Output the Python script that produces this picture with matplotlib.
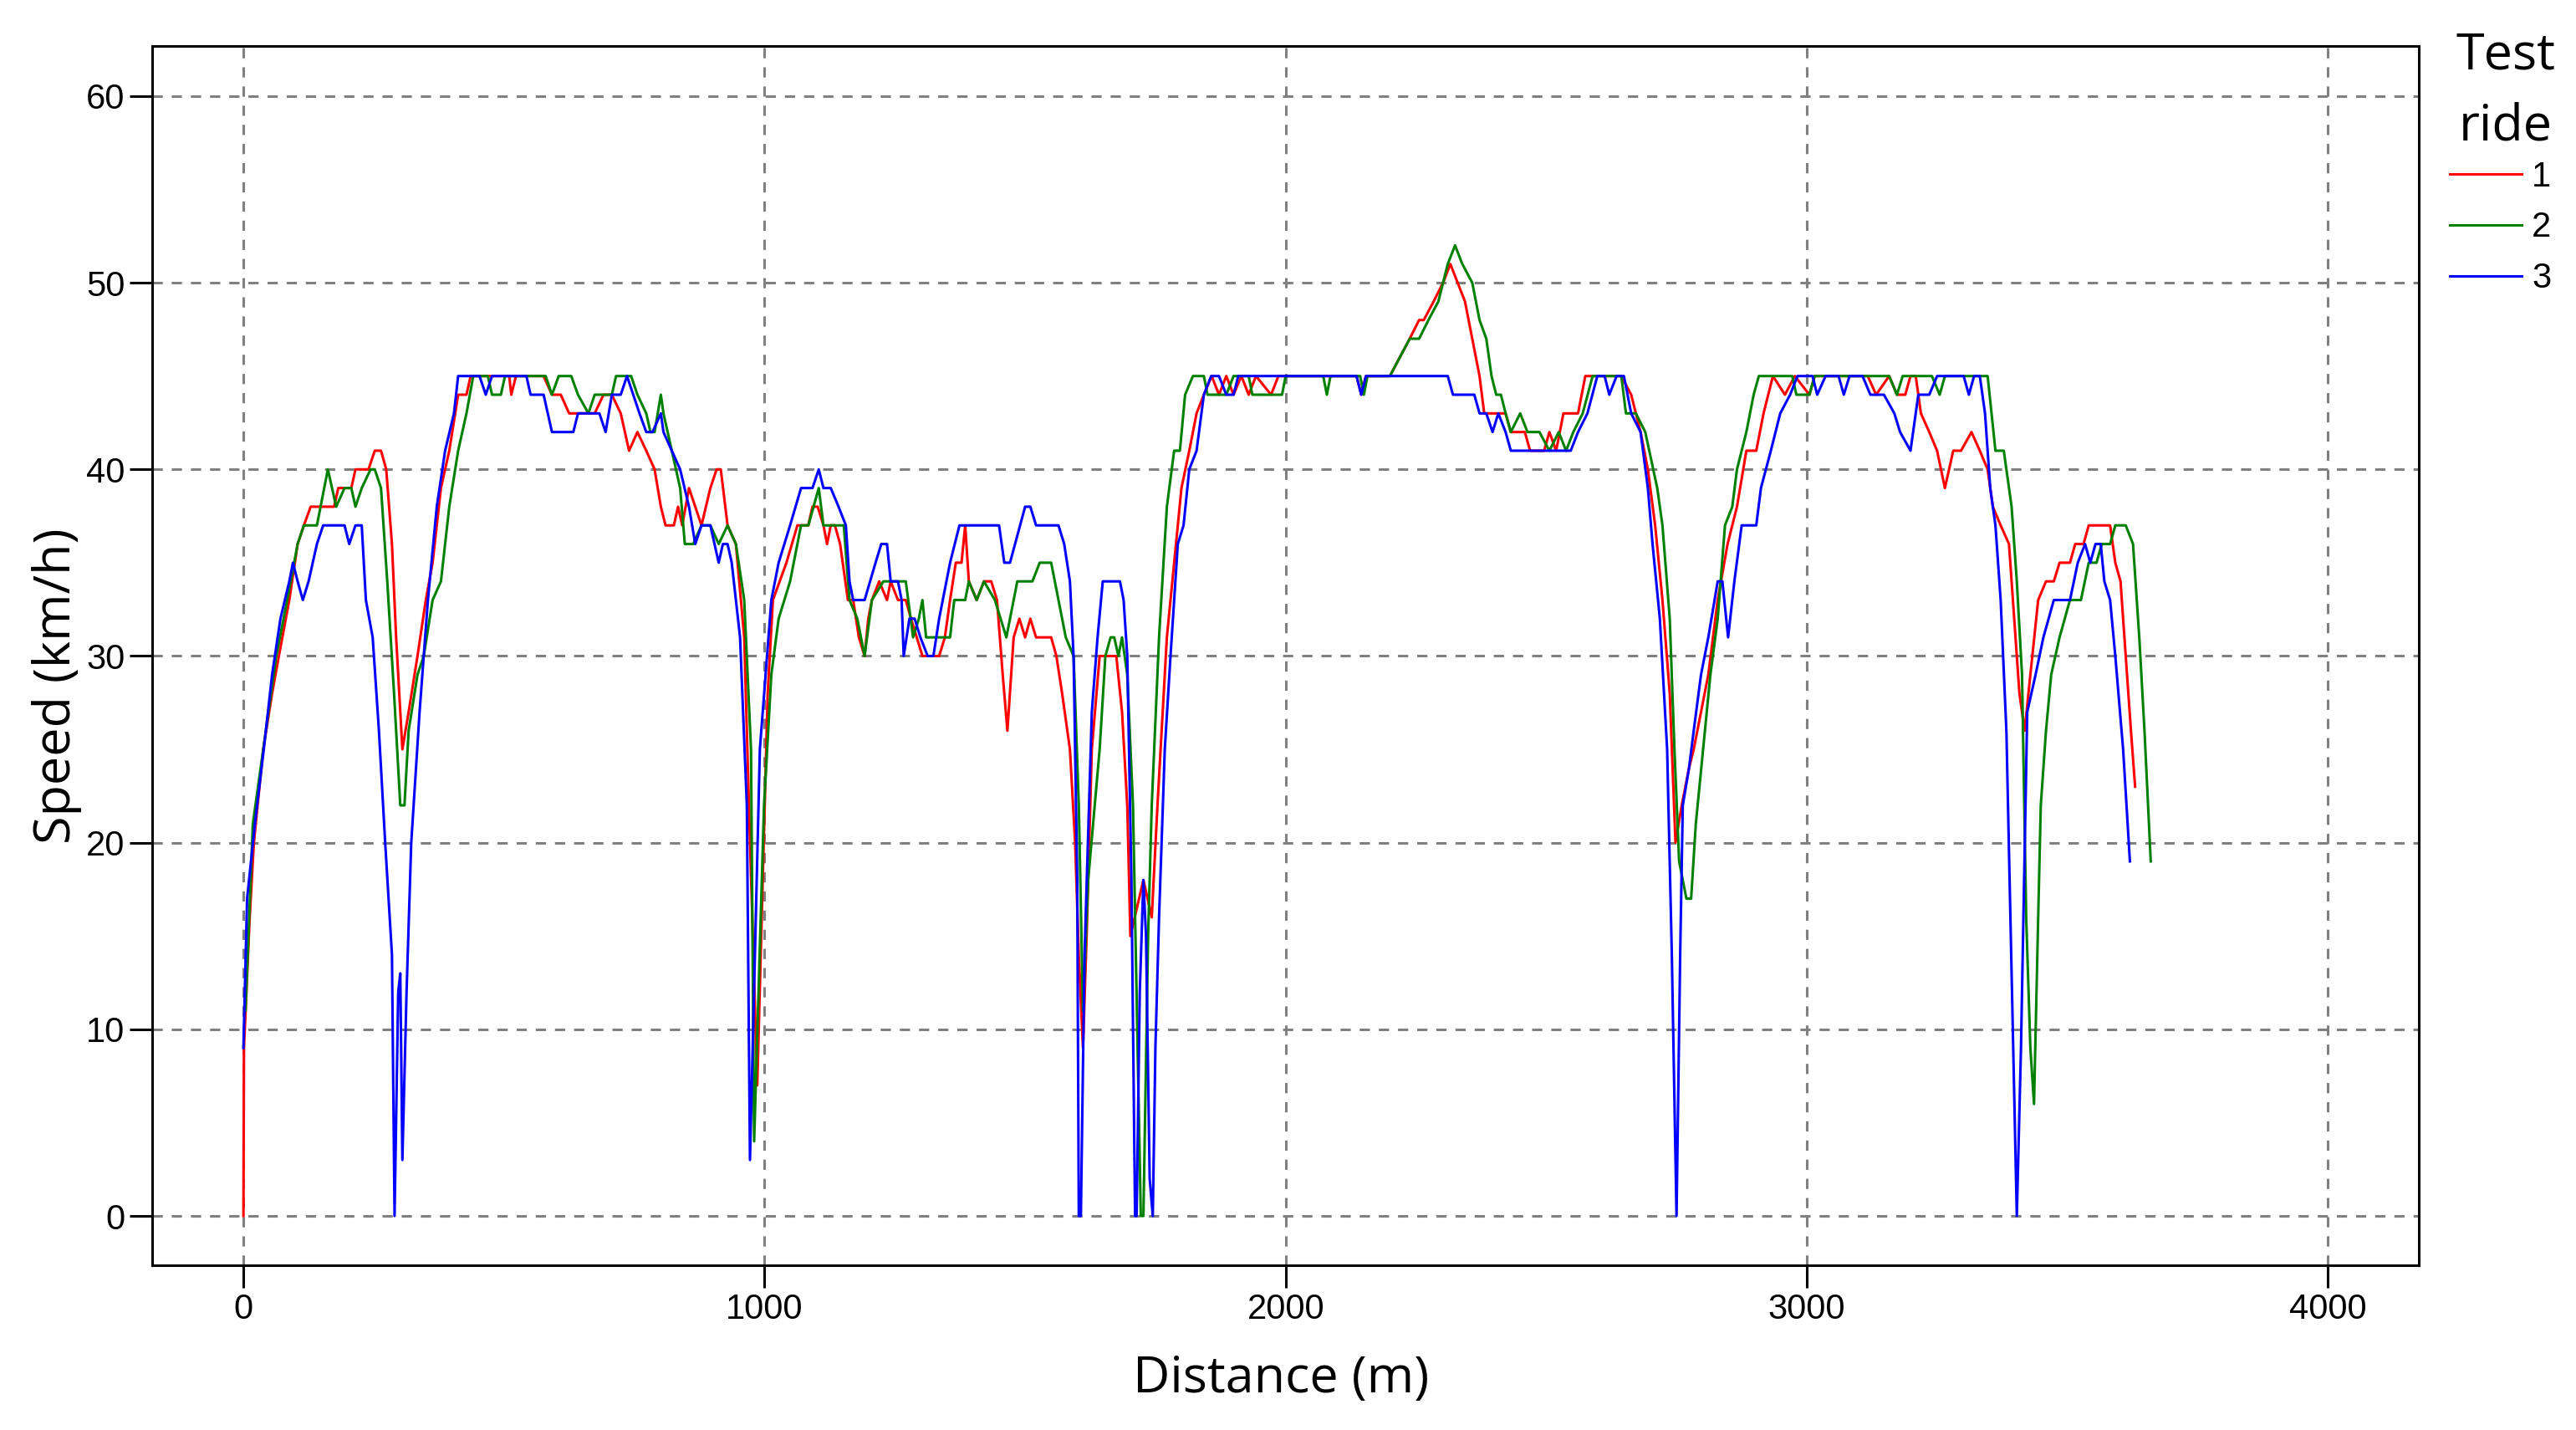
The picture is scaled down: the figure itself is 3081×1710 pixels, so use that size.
import matplotlib
matplotlib.use("Agg")
import matplotlib.pyplot as plt

###############################
### data: distance (m) and speed (km/h) per test ride

ride1_dist = [0, 1, 12, 20, 38, 55, 68, 88, 104, 116, 129, 174, 182, 207, 215, 240, 252, 264, 274, 285,
              293, 305, 317, 334, 350, 363, 379, 395, 412, 428, 436, 510, 514, 523, 576, 592, 609, 625, 674, 691,
              707, 724, 740, 756, 773, 789, 801, 810, 826, 834, 842, 855, 867, 879, 896, 908, 916, 929, 945, 961,
              970, 986, 1006, 1016, 1042, 1063, 1084, 1092, 1102, 1113, 1120, 1127, 1135, 1145, 1160, 1170, 1181, 1192, 1199, 1206,
              1220, 1235, 1242, 1256, 1271, 1281, 1292, 1303, 1335, 1346, 1356, 1367, 1378, 1385, 1392, 1407, 1421, 1435, 1446, 1457,
              1466, 1478, 1489, 1500, 1510, 1521, 1550, 1560, 1571, 1586, 1596, 1603, 1611, 1618, 1628, 1643, 1675, 1686, 1696, 1702,
              1727, 1743, 1754, 1764, 1772, 1786, 1800, 1815, 1829, 1843, 1858, 1872, 1886, 1900, 1915, 1929, 1943, 1972, 1986, 2136,
              2145, 2154, 2200, 2219, 2238, 2256, 2265, 2284, 2302, 2316, 2330, 2344, 2358, 2372, 2381, 2422, 2432, 2459, 2469, 2496,
              2506, 2519, 2533, 2561, 2575, 2644, 2663, 2681, 2695, 2709, 2723, 2737, 2748, 2760, 2774, 2783, 2797, 2811, 2829, 2848,
              2866, 2884, 2903, 2917, 2935, 2958, 2977, 3005, 3015, 3117, 3133, 3158, 3173, 3189, 3199, 3209, 3219, 3235, 3250, 3265,
              3281, 3296, 3316, 3332, 3347, 3357, 3372, 3388, 3398, 3408, 3418, 3429, 3444, 3459, 3474, 3485, 3505, 3515, 3531, 3541,
              3582, 3592, 3602, 3612, 3622, 3630]
ride1_speed = [0, 9, 16, 20, 25, 28, 30, 33, 36, 37, 38, 38, 39, 39, 40, 40, 41, 41, 40, 36,
               31, 25, 27, 30, 33, 35, 39, 41, 44, 44, 45, 45, 44, 45, 45, 44, 44, 43, 43, 44,
               44, 43, 41, 42, 41, 40, 38, 37, 37, 38, 37, 39, 38, 37, 39, 40, 40, 37, 36, 31,
               22, 7, 28, 33, 35, 37, 37, 38, 38, 37, 36, 37, 37, 36, 33, 33, 31, 30, 32, 33,
               34, 33, 34, 33, 33, 32, 31, 30, 30, 31, 33, 35, 35, 37, 34, 33, 34, 34, 33, 29,
               26, 31, 32, 31, 32, 31, 31, 30, 28, 25, 20, 14, 9, 15, 25, 30, 30, 27, 22, 15,
               18, 16, 22, 27, 31, 35, 39, 41, 43, 44, 45, 44, 45, 44, 45, 44, 45, 44, 45, 45,
               44, 45, 45, 46, 47, 48, 48, 49, 50, 51, 50, 49, 47, 45, 43, 43, 42, 42, 41, 41,
               42, 41, 43, 43, 45, 45, 44, 42, 40, 37, 33, 28, 20, 22, 24, 25, 27, 29, 33, 36,
               38, 41, 41, 43, 45, 44, 45, 44, 45, 45, 44, 45, 44, 44, 45, 45, 43, 42, 41, 39,
               41, 41, 42, 41, 40, 38, 37, 36, 32, 28, 26, 29, 33, 34, 34, 35, 35, 36, 36, 37,
               37, 35, 34, 30, 26, 23]

ride2_dist = [4, 18, 43, 63, 84, 104, 116, 141, 162, 178, 194, 207, 215, 227, 244, 252, 264, 276, 289, 301,
              309, 317, 334, 346, 363, 379, 395, 412, 428, 441, 469, 477, 494, 502, 580, 592, 605, 629, 642, 662,
              674, 707, 715, 744, 756, 773, 781, 789, 801, 806, 822, 838, 847, 863, 879, 896, 912, 929, 945, 961,
              974, 980, 999, 1013, 1027, 1049, 1070, 1084, 1104, 1113, 1152, 1163, 1178, 1192, 1206, 1228, 1249, 1271, 1285, 1296,
              1303, 1310, 1342, 1356, 1364, 1385, 1392, 1407, 1421, 1442, 1453, 1464, 1471, 1485, 1514, 1528, 1550, 1564, 1578, 1593,
              1603, 1611, 1621, 1643, 1654, 1664, 1671, 1679, 1686, 1696, 1707, 1722, 1727, 1736, 1743, 1757, 1772, 1786, 1797, 1807,
              1822, 1843, 1850, 1886, 1900, 1929, 1936, 1993, 2000, 2072, 2079, 2086, 2143, 2150, 2157, 2200, 2219, 2238, 2256, 2274,
              2293, 2311, 2325, 2339, 2358, 2372, 2385, 2395, 2404, 2413, 2422, 2432, 2450, 2464, 2487, 2506, 2524, 2538, 2552, 2570,
              2589, 2644, 2653, 2672, 2690, 2713, 2723, 2737, 2746, 2755, 2769, 2778, 2787, 2801, 2815, 2829, 2843, 2857, 2866, 2875,
              2884, 2898, 2908, 2972, 2980, 3005, 3015, 3158, 3173, 3184, 3240, 3255, 3265, 3347, 3362, 3378, 3393, 3403, 3413, 3421,
              3429, 3436, 3444, 3449, 3459, 3469, 3485, 3505, 3526, 3541, 3556, 3566, 3582, 3592, 3612, 3626, 3638, 3648, 3660]
ride2_speed = [11, 21, 26, 30, 33, 36, 37, 37, 40, 38, 39, 39, 38, 39, 40, 40, 39, 34, 28, 22,
               22, 26, 29, 30, 33, 34, 38, 41, 43, 45, 45, 44, 44, 45, 45, 44, 45, 45, 44, 43,
               44, 44, 45, 45, 44, 43, 42, 42, 44, 43, 41, 39, 36, 36, 37, 37, 36, 37, 36, 33,
               25, 4, 22, 29, 32, 34, 37, 37, 39, 37, 37, 33, 32, 30, 33, 34, 34, 34, 31, 32,
               33, 31, 31, 31, 33, 33, 34, 33, 34, 33, 32, 31, 32, 34, 34, 35, 35, 33, 31, 30,
               22, 11, 18, 25, 30, 31, 31, 30, 31, 29, 22, 0, 0, 15, 22, 31, 38, 41, 41, 44,
               45, 45, 44, 44, 45, 45, 44, 44, 45, 45, 44, 45, 45, 44, 45, 45, 46, 47, 47, 48,
               49, 51, 52, 51, 50, 48, 47, 45, 44, 44, 43, 42, 43, 42, 42, 41, 42, 41, 42, 43,
               45, 45, 43, 43, 42, 39, 37, 32, 25, 19, 17, 17, 21, 25, 29, 32, 37, 38, 40, 41,
               42, 44, 45, 45, 44, 44, 45, 45, 44, 45, 45, 44, 45, 45, 41, 41, 38, 34, 29, 16,
               9, 6, 16, 22, 26, 29, 31, 33, 33, 35, 35, 36, 36, 37, 37, 36, 31, 26, 19]

ride3_dist = [0, 7, 22, 39, 55, 71, 88, 95, 104, 114, 125, 141, 153, 194, 203, 215, 227, 235, 248, 260,
              272, 285, 290, 297, 301, 305, 313, 322, 338, 354, 371, 387, 404, 412, 453, 465, 477, 543, 551, 576,
              592, 633, 642, 683, 695, 707, 724, 736, 748, 760, 773, 785, 801, 806, 822, 838, 855, 867, 879, 896,
              912, 920, 929, 937, 953, 966, 972, 991, 1013, 1027, 1049, 1070, 1092, 1104, 1113, 1127, 1142, 1156, 1163, 1170,
              1192, 1213, 1224, 1235, 1242, 1256, 1263, 1267, 1278, 1288, 1299, 1313, 1324, 1335, 1356, 1374, 1450, 1460, 1471, 1500,
              1510, 1521, 1564, 1575, 1586, 1593, 1600, 1603, 1607, 1614, 1628, 1639, 1649, 1682, 1689, 1696, 1704, 1711, 1714, 1720,
              1727, 1732, 1739, 1745, 1750, 1757, 1768, 1779, 1793, 1804, 1815, 1829, 1843, 1857, 1872, 1886, 1900, 1909, 2136, 2145,
              2154, 2311, 2321, 2362, 2372, 2385, 2397, 2408, 2422, 2432, 2547, 2561, 2579, 2598, 2612, 2621, 2635, 2649, 2663, 2681,
              2695, 2704, 2718, 2732, 2741, 2750, 2757, 2762, 2774, 2783, 2797, 2811, 2829, 2838, 2849, 2861, 2875, 2903, 2912, 2931,
              2949, 2968, 2982, 3011, 3020, 3036, 3061, 3071, 3082, 3107, 3122, 3148, 3168, 3179, 3199, 3214, 3235, 3250, 3301, 3311,
              3321, 3332, 3342, 3352, 3362, 3372, 3383, 3393, 3403, 3411, 3423, 3439, 3454, 3474, 3505, 3520, 3534, 3544, 3554, 3564,
              3571, 3582, 3592, 3607, 3620]
ride3_speed = [9, 17, 21, 25, 29, 32, 34, 35, 34, 33, 34, 36, 37, 37, 36, 37, 37, 33, 31, 26,
               20, 14, 0, 12, 13, 3, 12, 20, 27, 33, 38, 41, 43, 45, 45, 44, 45, 45, 44, 44,
               42, 42, 43, 43, 42, 44, 44, 45, 44, 43, 42, 42, 43, 42, 41, 40, 38, 36, 37, 37,
               35, 36, 36, 35, 31, 22, 3, 25, 33, 35, 37, 39, 39, 40, 39, 39, 38, 37, 34, 33,
               33, 35, 36, 36, 34, 34, 33, 30, 32, 32, 31, 30, 30, 32, 35, 37, 37, 35, 35, 38,
               38, 37, 37, 36, 34, 30, 18, 0, 0, 14, 27, 31, 34, 34, 33, 30, 18, 0, 0, 12,
               18, 15, 2, 0, 9, 16, 25, 30, 36, 37, 40, 41, 44, 45, 45, 44, 44, 45, 45, 44,
               45, 45, 44, 44, 43, 43, 42, 43, 42, 41, 41, 42, 43, 45, 45, 44, 45, 45, 43, 42,
               39, 36, 32, 25, 14, 0, 14, 22, 24, 26, 29, 31, 34, 34, 31, 34, 37, 37, 39, 41,
               43, 44, 45, 45, 44, 45, 45, 44, 45, 45, 44, 44, 43, 42, 41, 44, 44, 45, 45, 44,
               45, 45, 43, 39, 37, 33, 26, 13, 0, 9, 27, 29, 31, 33, 33, 35, 36, 35, 36, 36,
               34, 33, 30, 25, 19]

ride_labels = ["1", "2", "3"]
ride_colors = ["#ff0000", "#008000", "#0000ff"]
legend_title = ["Test", "ride"]

x_ticks = [0, 1000, 2000, 3000, 4000]
y_ticks = [0, 10, 20, 30, 40, 50, 60]

###############################
### figure

fig = plt.figure(figsize=(30.81, 17.10), dpi=100)
ax = fig.add_axes([0.0591, 0.1152, 0.8800, 0.8526])

series = [(ride1_dist, ride1_speed), (ride2_dist, ride2_speed), (ride3_dist, ride3_speed)]
handles = []
for (d, v), lab, col in zip(series, ride_labels, ride_colors):
	line, = ax.plot(d, v, color=col, lw=2.2, label=lab)
	handles.append(line)

ax.set_xlim(-175, 4175)
ax.set_ylim(-2.64, 62.68)
ax.set_xticks(x_ticks)
ax.set_yticks(y_ticks)
ax.set_axisbelow(True)
ax.grid(True, color="#808080", lw=2.2, linestyle=(0, (4, 3.5)))

for sp in ax.spines.values():
	sp.set_linewidth(2.2)
	sp.set_color("black")

ax.tick_params(direction="out", length=19.5, width=2.2, pad=4, labelsize=30)
for lbl in ax.get_xticklabels() + ax.get_yticklabels():
	lbl.set_family("Liberation Sans")

ax.set_xlabel("Distance (m)", family="Open Sans", fontsize=44)
ax.set_ylabel("Speed (km/h)", family="Open Sans", fontsize=44)
ax.xaxis.set_label_coords(0.498, -0.073)
ax.yaxis.set_label_coords(-0.031, 0.475)

# legend title drawn as two centred lines, entries below
fig.text(0.9727, 0.952, legend_title[0], ha="center", va="baseline", family="Open Sans", fontsize=44)
fig.text(0.9727, 0.9018, legend_title[1], ha="center", va="baseline", family="Open Sans", fontsize=44)

leg = ax.legend(handles, ride_labels, loc="upper left",
				bbox_to_anchor=(0.951, 0.888), bbox_transform=fig.transFigure,
				frameon=False, handlelength=2.06, handletextpad=0.3,
				labelspacing=0.5, borderpad=0, borderaxespad=0,
				prop={"family": "Liberation Sans", "size": 30})

fig.savefig("out.png", dpi=100)
